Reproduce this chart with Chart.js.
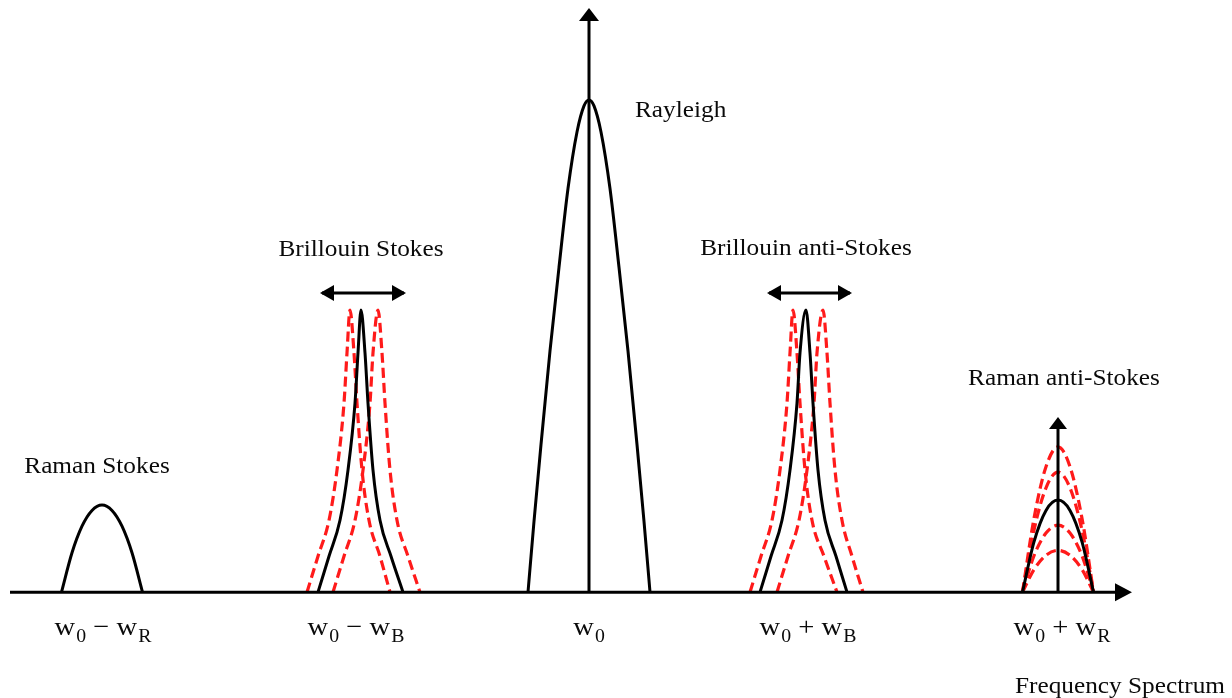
<!DOCTYPE html>
<html><head><meta charset="utf-8">
<script src="https://cdn.jsdelivr.net/npm/chart.js@4/dist/chart.umd.min.js"></script>
<style>html,body{margin:0;padding:0;background:#fff;overflow:hidden}canvas{display:block}</style>
</head><body>
<canvas id="c" width="1232" height="698"></canvas>
<script>
// x: frequency offset from w0 (arbitrary units), y: intensity (Rayleigh peak = 100)
const ramanStokesX = [-527.5,-517,-507,-497,-487,-477,-467,-457,-446.5];
const ramanStokesY = [0,8.0,13.4,16.6,17.7,16.6,13.4,8.0,0];

const brilY = [0,7.3,14.6,24.8,38.4,48.6,57.3,48.6,38.4,24.8,14.6,7.3,0];
const brilStokesX   = [-271,-260,-249,-241,-234,-231,-228,-224,-221,-216,-209,-198,-186];
const brilStokesLoX = [-282,-271,-260,-252,-245,-242,-239,-235,-232,-227,-220,-209,-199];
const brilStokesHiX = [-256,-245,-234,-226,-219,-216,-211,-207,-204,-199,-192,-181,-169];

const rayleighX = [-61,-55,-48,-39,-30,-21,-12,-5,0,5,12,21,30,39,48,55,61];
const rayleighY = [0,14.4,30,49,66,82,93.5,98.8,100,98.8,93.5,82,66,49,30,14.4,0];

const brilAntiX   = [171,182,193,201,208,211,217,221,224,229,236,247,258];
const brilAntiLoX = [161,172,183,191,198,201,204,208,211,216,223,235,248];
const brilAntiHiX = [188,199,210,218,225,228,234,238,241,246,253,263,274];

const ramanAntiX   = [433.5,445,457,469,481,493,504.5];
const ramanAntiY   = [0,10.2,16.6,18.7,16.6,10.2,0];
const ramanAntiR1Y = [0,15.0,25.5,29.5,25.5,15.0,0];
const ramanAntiR2Y = [0,12.6,21.2,24.4,21.2,12.6,0];
const ramanAntiR3Y = [0,7.4,12.0,13.6,12.0,7.4,0];
const ramanAntiR4Y = [0,4.6,7.5,8.5,7.5,4.6,0];

// axes / arrows (data units)
const axisX = [-579, 530];
const rayleighArrowX = 0, rayleighArrowTop = 118.7;
const ramanArrowX = 469, ramanArrowTop = 35.6;
const shiftArrowY = 60.8;
const shiftArrowStokes = [-267, -185];
const shiftArrowAnti = [180, 261];

// texts
const labelTexts = ['Rayleigh','Brillouin Stokes','Brillouin anti-Stokes','Raman Stokes','Raman anti-Stokes','Frequency Spectrum'];
const labelX = [46, -228, 217, -492, 475, 636];
const labelY = [96.5, 68.3, 68.5, 24.2, 42.1, -20.5];
const labelAlign = ['left','center','center','center','center','right'];

const tickX = [-486, -233, 0, 219, 473];
const tickLabels = [
  [['w','0'],[' − ',''],['w','R']],
  [['w','0'],[' − ',''],['w','B']],
  [['w','0']],
  [['w','0'],[' + ',''],['w','B']],
  [['w','0'],[' + ',''],['w','R']]
];
const tickY = -8.8;

const BLACK = '#000000', RED = '#ff1a1a';

function line(xs, ys, color, dashed, order) {
  return {
    data: xs.map((x, i) => ({x: x, y: ys[i]})),
    showLine: true, borderColor: color, borderWidth: dashed ? 3.2 : 3,
    borderDash: dashed ? [10, 5] : [],
    cubicInterpolationMode: 'monotone',
    pointRadius: 0, fill: false, order: order
  };
}

const datasets = [
  line(axisX, [0, 0], BLACK, false, 0),
  line([rayleighArrowX, rayleighArrowX], [0, rayleighArrowTop - 2.6], BLACK, false, 0),
  line([ramanArrowX, ramanArrowX], [0, ramanArrowTop - 2.4], BLACK, false, 0),
  line(shiftArrowStokes, [shiftArrowY, shiftArrowY], BLACK, false, 0),
  line(shiftArrowAnti, [shiftArrowY, shiftArrowY], BLACK, false, 0),
  line(ramanStokesX, ramanStokesY, BLACK, false, 0),
  line(brilStokesX, brilY, BLACK, false, 0),
  line(brilStokesLoX, brilY, RED, true, 1),
  line(brilStokesHiX, brilY, RED, true, 1),
  line(rayleighX, rayleighY, BLACK, false, 0),
  line(brilAntiX, brilY, BLACK, false, 0),
  line(brilAntiLoX, brilY, RED, true, 1),
  line(brilAntiHiX, brilY, RED, true, 1),
  line(ramanAntiX, ramanAntiY, BLACK, false, 0),
  line(ramanAntiX, ramanAntiR1Y, RED, true, 1),
  line(ramanAntiX, ramanAntiR2Y, RED, true, 1),
  line(ramanAntiX, ramanAntiR3Y, RED, true, 1),
  line(ramanAntiX, ramanAntiR4Y, RED, true, 1)
];

const SERIF = '"Liberation Serif", "Times New Roman", serif';
const SX = 1.1;

const decor = {
  id: 'decor',
  afterDatasetsDraw(chart) {
    const ctx = chart.ctx, xs = chart.scales.x, ys = chart.scales.y;
    const px = v => xs.getPixelForValue(v), py = v => ys.getPixelForValue(v);
    ctx.save();
    ctx.fillStyle = BLACK;
    function tri(a, b, c) {
      ctx.beginPath(); ctx.moveTo(a[0], a[1]); ctx.lineTo(b[0], b[1]); ctx.lineTo(c[0], c[1]); ctx.closePath(); ctx.fill();
    }
    const ax = px(axisX[1]), ay = py(0);
    tri([ax + 13, ay], [ax - 4, ay - 9], [ax - 4, ay + 9]);
    let vx = px(rayleighArrowX), vy = py(rayleighArrowTop);
    tri([vx, vy], [vx - 10, vy + 13], [vx + 10, vy + 13]);
    vx = px(ramanArrowX); vy = py(ramanArrowTop);
    tri([vx, vy], [vx - 9, vy + 12], [vx + 9, vy + 12]);
    [shiftArrowStokes, shiftArrowAnti].forEach(s => {
      const y = py(shiftArrowY), l = px(s[0]), r = px(s[1]);
      tri([l - 2, y], [l + 12, y - 8], [l + 12, y + 8]);
      tri([r + 2, y], [r - 12, y - 8], [r - 12, y + 8]);
    });
    ctx.fillStyle = '#0a0a0a';
    ctx.textBaseline = 'alphabetic';
    ctx.font = '23px ' + SERIF;
    labelTexts.forEach((t, i) => {
      const w = ctx.measureText(t).width * SX;
      let x = px(labelX[i]);
      if (labelAlign[i] === 'center') x -= w / 2;
      else if (labelAlign[i] === 'right') x -= w;
      ctx.save();
      ctx.translate(x, py(labelY[i]));
      ctx.scale(SX, 1);
      ctx.textAlign = 'left';
      ctx.fillText(t, 0, 0);
      ctx.restore();
    });
    const mainFont = '26px ' + SERIF, subFont = '18px ' + SERIF;
    tickLabels.forEach((parts, i) => {
      let total = 0;
      parts.forEach(p => {
        ctx.font = mainFont; total += ctx.measureText(p[0]).width;
        if (p[1]) { ctx.font = subFont; total += ctx.measureText(p[1]).width + 1; }
      });
      total *= SX;
      ctx.save();
      ctx.translate(px(tickX[i]) - total / 2, py(tickY));
      ctx.scale(SX, 1);
      let x = 0;
      parts.forEach(p => {
        ctx.font = mainFont; ctx.fillText(p[0], x, 0); x += ctx.measureText(p[0]).width;
        if (p[1]) { ctx.font = subFont; ctx.fillText(p[1], x + 1, 7); x += ctx.measureText(p[1]).width + 1; }
      });
      ctx.restore();
    });
    ctx.restore();
  }
};

new Chart(document.getElementById('c').getContext('2d'), {
  type: 'scatter',
  data: { datasets: datasets },
  options: {
    responsive: false, animation: false, devicePixelRatio: 1,
    layout: { padding: 0 },
    plugins: { legend: { display: false }, tooltip: { enabled: false } },
    scales: {
      x: { type: 'linear', min: -589, max: 643, display: false },
      y: { type: 'linear', min: -21.5, max: 120.3, display: false }
    }
  },
  plugins: [decor]
});
</script>
</body></html>
